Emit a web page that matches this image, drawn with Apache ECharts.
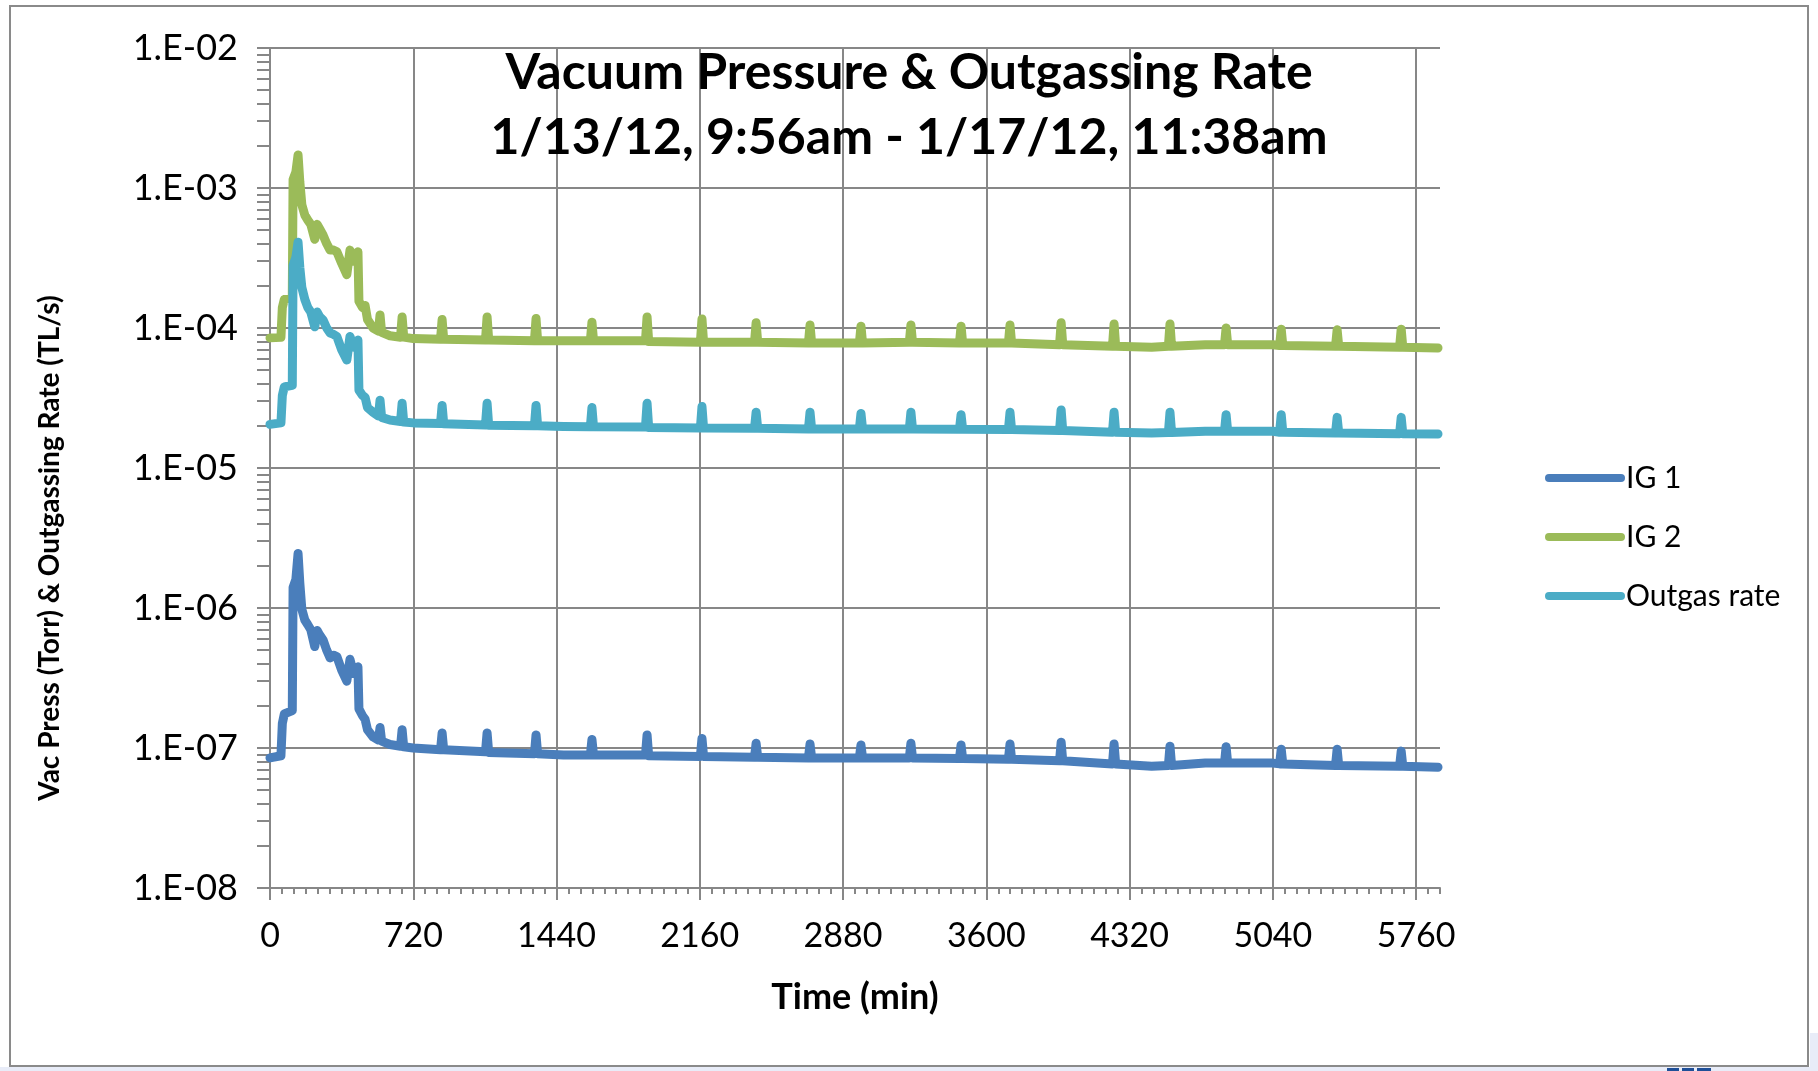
<!DOCTYPE html>
<html>
<head>
<meta charset="utf-8">
<title>Vacuum Pressure & Outgassing Rate</title>
<script src="https://cdn.jsdelivr.net/npm/echarts@6/dist/echarts.min.js"></script>
<style>
	html, body { margin: 0; padding: 0; background: #fff; }
	#vac-chart { width: 1818px; height: 1071px; }
</style>
</head>
<body>
<div id="vac-chart"></div>
<script>
// time in minutes since 1/13/12 9:56am
var time = [0, 55, 62, 72, 112, 116, 130, 141, 150, 160, 175, 190, 205, 225, 237, 250, 267, 285, 302, 320,
	336, 360, 386, 402, 420, 442, 447, 465, 478, 490, 518, 545, 553, 561, 603, 656, 664, 672, 720, 857,
	865, 873, 1083, 1091, 1099, 1329, 1337, 1345, 1475, 1610, 1618, 1626, 1887, 1895, 1903, 2163, 2171, 2179, 2435, 2443,
	2451, 2706, 2714, 2722, 2962, 2970, 2978, 3213, 3221, 3229, 3465, 3473, 3481, 3711, 3719, 3727, 3968, 3976, 3984, 4234,
	4242, 4250, 4431, 4515, 4523, 4531, 4700, 4797, 4805, 4813, 5041, 5074, 5082, 5090, 5355, 5363, 5371, 5677, 5685, 5693,
	5870];

var ig1 = [8.5e-8, 8.8e-8, 1.5e-7, 1.75e-7, 1.85e-7, 1.4e-6, 1.6e-6, 2.45e-6, 1.5e-6, 9.8e-7, 8.2e-7, 7.6e-7, 7.0e-7, 5.3e-7, 6.9e-7, 6.4e-7, 5.9e-7, 5.0e-7, 4.4e-7, 4.6e-7,
	4.5e-7, 3.6e-7, 3.0e-7, 4.3e-7, 3.4e-7, 3.8e-7, 1.9e-7, 1.7e-7, 1.6e-7, 1.35e-7, 1.2e-7, 1.14e-7, 1.4e-7, 1.12e-7, 1.06e-7, 1.03e-7, 1.35e-7, 1.02e-7, 1.0e-7, 9.7e-8,
	1.28e-7, 9.7e-8, 9.4e-8, 1.28e-7, 9.3e-8, 9.1e-8, 1.24e-7, 9.1e-8, 8.9e-8, 8.9e-8, 1.15e-7, 8.9e-8, 8.9e-8, 1.24e-7, 8.8e-8, 8.7e-8, 1.17e-7, 8.7e-8, 8.6e-8, 1.08e-7,
	8.6e-8, 8.5e-8, 1.07e-7, 8.5e-8, 8.5e-8, 1.05e-7, 8.5e-8, 8.5e-8, 1.08e-7, 8.5e-8, 8.4e-8, 1.05e-7, 8.4e-8, 8.3e-8, 1.07e-7, 8.3e-8, 8.1e-8, 1.1e-7, 8.1e-8, 7.7e-8,
	1.07e-7, 7.7e-8, 7.4e-8, 7.5e-8, 1.03e-7, 7.5e-8, 7.8e-8, 7.8e-8, 1.02e-7, 7.8e-8, 7.8e-8, 7.7e-8, 9.8e-8, 7.7e-8, 7.5e-8, 9.8e-8, 7.5e-8, 7.4e-8, 9.5e-8, 7.4e-8,
	7.3e-8];

var ig2 = [8.5e-5, 8.6e-5, 1.4e-4, 1.6e-4, 1.65e-4, 1.15e-3, 1.3e-3, 1.72e-3, 1.1e-3, 7.6e-4, 6.4e-4, 5.9e-4, 5.5e-4, 4.3e-4, 5.5e-4, 5.1e-4, 4.6e-4, 4.0e-4, 3.6e-4, 3.6e-4,
	3.5e-4, 2.9e-4, 2.4e-4, 3.6e-4, 3.0e-4, 3.5e-4, 1.55e-4, 1.4e-4, 1.45e-4, 1.15e-4, 1.0e-4, 9.5e-5, 1.24e-4, 9.3e-5, 8.8e-5, 8.6e-5, 1.2e-4, 8.6e-5, 8.4e-5, 8.3e-5,
	1.15e-4, 8.3e-5, 8.2e-5, 1.2e-4, 8.2e-5, 8.1e-5, 1.17e-4, 8.1e-5, 8.1e-5, 8.1e-5, 1.1e-4, 8.1e-5, 8.1e-5, 1.2e-4, 8.0e-5, 7.9e-5, 1.16e-4, 7.9e-5, 7.9e-5, 1.09e-4,
	7.9e-5, 7.8e-5, 1.05e-4, 7.8e-5, 7.8e-5, 1.03e-4, 7.8e-5, 7.9e-5, 1.05e-4, 7.9e-5, 7.8e-5, 1.03e-4, 7.8e-5, 7.8e-5, 1.05e-4, 7.8e-5, 7.6e-5, 1.09e-4, 7.6e-5, 7.4e-5,
	1.07e-4, 7.4e-5, 7.3e-5, 7.4e-5, 1.07e-4, 7.4e-5, 7.6e-5, 7.6e-5, 1.0e-4, 7.6e-5, 7.6e-5, 7.5e-5, 9.8e-5, 7.5e-5, 7.4e-5, 9.7e-5, 7.4e-5, 7.3e-5, 9.8e-5, 7.3e-5,
	7.2e-5];

var outgas = [2.05e-5, 2.1e-5, 3.3e-5, 3.8e-5, 3.9e-5, 2.8e-4, 3.2e-4, 4.1e-4, 2.7e-4, 1.95e-4, 1.6e-4, 1.4e-4, 1.3e-4, 1.02e-4, 1.3e-4, 1.2e-4, 1.14e-4, 1.0e-4, 9.2e-5, 9.0e-5,
	8.7e-5, 7.0e-5, 5.9e-5, 8.7e-5, 7.3e-5, 8.2e-5, 3.6e-5, 3.3e-5, 3.2e-5, 2.7e-5, 2.5e-5, 2.35e-5, 3.05e-5, 2.3e-5, 2.2e-5, 2.15e-5, 2.9e-5, 2.13e-5, 2.1e-5, 2.08e-5,
	2.8e-5, 2.07e-5, 2.03e-5, 2.9e-5, 2.02e-5, 2.0e-5, 2.8e-5, 2.0e-5, 1.98e-5, 1.97e-5, 2.7e-5, 1.97e-5, 1.96e-5, 2.9e-5, 1.95e-5, 1.93e-5, 2.75e-5, 1.93e-5, 1.92e-5, 2.5e-5,
	1.92e-5, 1.9e-5, 2.5e-5, 1.9e-5, 1.9e-5, 2.45e-5, 1.9e-5, 1.9e-5, 2.5e-5, 1.9e-5, 1.89e-5, 2.4e-5, 1.89e-5, 1.88e-5, 2.5e-5, 1.88e-5, 1.85e-5, 2.6e-5, 1.85e-5, 1.8e-5,
	2.5e-5, 1.8e-5, 1.78e-5, 1.79e-5, 2.5e-5, 1.79e-5, 1.83e-5, 1.83e-5, 2.4e-5, 1.83e-5, 1.83e-5, 1.8e-5, 2.4e-5, 1.8e-5, 1.78e-5, 2.3e-5, 1.78e-5, 1.76e-5, 2.3e-5, 1.76e-5,
	1.75e-5];

var seriesNames = ['IG 1', 'IG 2', 'Outgas rate'];
var xTicks = [0, 720, 1440, 2160, 2880, 3600, 4320, 5040, 5760];
var yTicks = [1e-8, 1e-7, 1e-6, 1e-5, 1e-4, 1e-3, 1e-2];

/*--- minor ticks of the log axis: 2..9 x each decade ---*/
var yMinor = [];
for (var d = -8; d < -2; d++) {
	for (var m = 2; m < 10; m++) {
		yMinor.push(m * Math.pow(10, d));
	}
}

function pairs(vals) {
	return time.map(function(t, i) { return [t, vals[i]]; });
}

function expLabel(v) {
	var e = Math.round(Math.log10(v));
	var a = Math.abs(e);
	return '1.E' + (e < 0 ? '-' : '+') + (a < 10 ? '0' + a : a);
}

var gridColor = '#878787';
var font = 'Lato, "Open Sans", sans-serif';

var myChart = echarts.init(document.getElementById('vac-chart'));
var option = {
	backgroundColor: '#ffffff',
	animation: false,
	textStyle: { fontFamily: font },
	title: {
		text: 'Vacuum Pressure & Outgassing Rate\n1/13/12, 9:56am - 1/17/12, 11:38am',
		left: 'center',
		top: 35,
		textStyle: {
			fontFamily: font,
			fontSize: 50,
			fontWeight: 'bold',
			lineHeight: 65,
			color: '#000'
		}
	},
	legend: {
		orient: 'vertical',
		left: 1540,
		top: 458,
		itemWidth: 80,
		itemHeight: 8,
		itemGap: 29,
		icon: 'path://M4,0 H76 A4,4 0 0 1 76,8 H4 A4,4 0 0 1 4,0 Z',
		data: seriesNames,
		textStyle: {
			fontFamily: font,
			fontSize: 30,
			lineHeight: 28,
			color: '#000',
			padding: [0, 0, 0, -4]
		}
	},
	grid: {
		left: 270,
		top: 48,
		width: 1170,
		height: 840,
		containLabel: false
	},
	xAxis: [{
		type: 'value',
		min: 0,
		max: 5880,
		name: 'Time (min)',
		nameLocation: 'middle',
		nameGap: 91,
		nameTextStyle: { fontFamily: font, fontSize: 36, fontWeight: 'bold', color: '#000' },
		axisLine: { lineStyle: { color: gridColor, width: 2 } },
		axisTick: { length: 12, lineStyle: { color: gridColor, width: 2 }, customValues: xTicks },
		axisLabel: {
			fontSize: 34,
			color: '#000',
			margin: 31,
			customValues: xTicks,
			formatter: function(v) { return String(v); }
		},
		splitLine: { show: true, lineStyle: { color: gridColor, width: 2 } }
	}, {
		// minor ticks every hour
		type: 'value',
		min: 0,
		max: 5880,
		interval: 60,
		position: 'bottom',
		axisLine: { show: false },
		axisTick: { length: 6, lineStyle: { color: gridColor, width: 2 } },
		axisLabel: { show: false },
		splitLine: { show: false }
	}],
	yAxis: [{
		type: 'log',
		logBase: 10,
		min: 1e-8,
		max: 1e-2,
		axisLine: { show: true, lineStyle: { color: gridColor, width: 2 } },
		axisTick: { show: true, length: 13, lineStyle: { color: gridColor, width: 2 }, customValues: yTicks },
		axisLabel: { fontSize: 36, color: '#000', margin: 32, customValues: yTicks, formatter: expLabel },
		splitLine: { show: true, lineStyle: { color: gridColor, width: 2 } }
	}, {
		type: 'log',
		logBase: 10,
		min: 1e-8,
		max: 1e-2,
		position: 'left',
		axisLine: { show: false },
		axisTick: { show: true, length: 13, lineStyle: { color: gridColor, width: 2 }, customValues: yMinor },
		axisLabel: { show: false },
		splitLine: { show: false }
	}],
	series: [{
		name: 'IG 1',
		type: 'line',
		showSymbol: false,
		color: '#4a7ebb',
		lineStyle: { width: 9, cap: 'round', join: 'round' },
		data: pairs(ig1)
	}, {
		name: 'IG 2',
		type: 'line',
		showSymbol: false,
		color: '#9bbb59',
		lineStyle: { width: 9, cap: 'round', join: 'round' },
		data: pairs(ig2)
	}, {
		name: 'Outgas rate',
		type: 'line',
		showSymbol: false,
		color: '#4bacc6',
		lineStyle: { width: 9, cap: 'round', join: 'round' },
		data: pairs(outgas)
	}],
	graphic: [{
		type: 'rect',
		z: -10,
		silent: true,
		shape: { x: 10, y: 6, width: 1798, height: 1060 },
		style: { fill: '#ffffff', stroke: '#8a8a8a', lineWidth: 2 }
	}, {
		// y axis title, sits a little below the plot centre
		type: 'text',
		silent: true,
		x: 50,
		y: 548,
		rotation: Math.PI / 2,
		style: {
			text: 'Vac Press (Torr) & Outgassing Rate (TL/s)',
			fontFamily: font,
			fontSize: 28,
			fontWeight: 'bold',
			fill: '#000',
			align: 'center',
			verticalAlign: 'middle'
		}
	}, {
		type: 'rect',
		z: -20,
		silent: true,
		shape: { x: 0, y: 1067, width: 1818, height: 4 },
		style: { fill: '#e8ecf8' }
	}, {
		type: 'rect',
		z: -20,
		silent: true,
		shape: { x: 1810, y: 1033, width: 8, height: 38 },
		style: { fill: '#e8ecf8' }
	}, {
		type: 'group',
		silent: true,
		children: [
			{ type: 'rect', shape: { x: 1667, y: 1068, width: 12, height: 3 }, style: { fill: '#1f4f98' } },
			{ type: 'rect', shape: { x: 1682, y: 1068, width: 12, height: 3 }, style: { fill: '#1f4f98' } },
			{ type: 'rect', shape: { x: 1697, y: 1068, width: 14, height: 3 }, style: { fill: '#1f4f98' } }
		]
	}]
};
myChart.setOption(option);
window.addEventListener('resize', function() {
	myChart.resize();
});
</script>
</body>
</html>
